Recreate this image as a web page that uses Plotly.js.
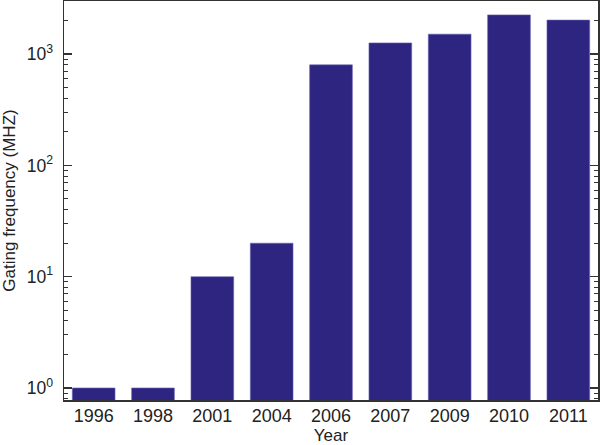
<!DOCTYPE html>
<html>
<head>
<meta charset="utf-8">
<script src="https://cdn.plot.ly/plotly-3.0.1.min.js"></script>
<style>html,body{margin:0;padding:0;background:#fff;}#chart{width:600px;height:445px;}</style>
</head>
<body>
<div id="chart"></div>
<script>
var years = ['1996', '1998', '2001', '2004', '2006', '2007', '2009', '2010', '2011'];
var gatingFreq = [1, 1, 10, 20, 800, 1260, 1510, 2250, 2020];
var yTickVals = [1, 10, 100, 1000];
var yTickText = ['10<sup>0</sup>', '10<sup>1</sup>', '10<sup>2</sup>', '10<sup>3</sup>'];

var font = 'Liberation Sans, Arial, sans-serif';
var axisColor = '#333333';
var textColor = '#222222';

var data = [{
  type: 'bar',
  x: years,
  y: gatingFreq,
  marker: {color: '#2e2580', line: {color: '#6a64b4', width: 0.6}},
  hoverinfo: 'x+y'
}];

var layout = {
  width: 600,
  height: 445,
  margin: {l: 64, r: 2, t: 1, b: 45},
  paper_bgcolor: '#ffffff',
  plot_bgcolor: '#ffffff',
  showlegend: false,
  bargap: 0.28,
  font: {family: font, size: 17, color: textColor},
  xaxis: {
    type: 'category',
    title: {text: 'Year', font: {family: font, size: 17, color: textColor}, standoff: 5},
    showline: true, linecolor: axisColor, linewidth: 1.5, mirror: true,
    ticks: '', showgrid: false, zeroline: false,
    ticklabelstandoff: -1,
    tickfont: {family: font, size: 18, color: textColor},
    automargin: false
  },
  xaxis2: {
    overlaying: 'x', side: 'top', range: [-0.5, 8.5], type: 'linear',
    tick0: 0, dtick: 0.5, ticks: 'inside', ticklen: 3, tickwidth: 1, tickcolor: axisColor,
    showticklabels: false, showgrid: false, zeroline: false, showline: false
  },
  yaxis: {
    type: 'log',
    range: [-0.108, 3.477],
    title: {text: 'Gating frequency (MHZ)', font: {family: font, size: 17, color: textColor}, standoff: 13},
    tickmode: 'array', tickvals: yTickVals, ticktext: yTickText,
    ticks: 'inside', ticklen: 8, tickwidth: 1.2, tickcolor: axisColor,
    ticklabelstandoff: 6,
    minor: {dtick: 'D1', ticks: 'inside', ticklen: 4, tickwidth: 1, tickcolor: axisColor, showgrid: false},
    showline: true, linecolor: axisColor, linewidth: 1.5, mirror: 'ticks',
    showgrid: false, zeroline: false,
    tickfont: {family: font, size: 17.5, color: textColor},
    automargin: false
  }
};

Plotly.newPlot('chart', data, layout, {displayModeBar: false, staticPlot: true});
</script>
</body>
</html>
